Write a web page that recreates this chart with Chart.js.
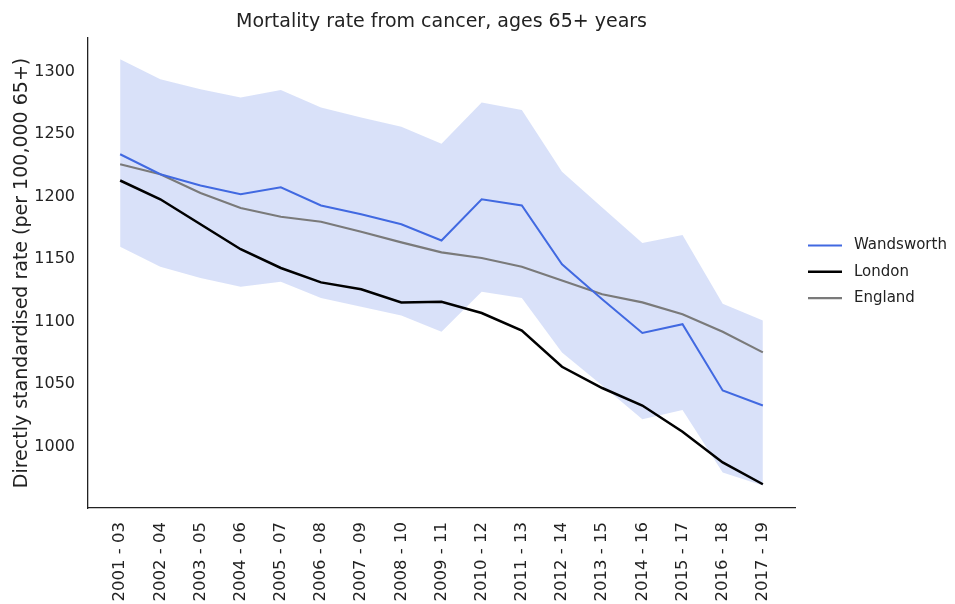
<!DOCTYPE html>
<html>
<head>
<meta charset="utf-8">
<script src="https://cdn.jsdelivr.net/npm/chart.js@4"></script>
<style>
  html, body { margin: 0; padding: 0; background: #fff; }
  #wrap { position: relative; width: 955px; height: 604px; }
</style>
</head>
<body>
<div id="wrap"><canvas id="chart" width="955" height="604"></canvas></div>
<script>
// Periods (3-year pooled)
const periods = ['2001 - 03', '2002 - 04', '2003 - 05', '2004 - 06', '2005 - 07', '2006 - 08',
    '2007 - 09', '2008 - 10', '2009 - 11', '2010 - 12', '2011 - 13', '2012 - 14',
    '2013 - 15', '2014 - 16', '2015 - 17', '2016 - 18', '2017 - 19'];

// Directly standardised rate per 100,000 aged 65+
const wandsworth = [1234, 1218, 1209, 1202, 1207.5, 1193, 1186, 1178, 1165, 1198, 1193, 1146, 1118, 1091, 1098, 1045, 1033];
const london = [1213, 1198, 1178, 1158, 1143, 1131.5, 1126, 1115.5, 1116, 1107, 1093, 1064, 1047, 1033, 1012, 987.5, 970];
const england = [1226, 1218, 1203, 1191, 1184, 1180, 1172, 1163.5, 1155.5, 1151, 1144, 1133, 1122, 1115.5, 1106, 1092, 1075.5];

// Wandsworth 95% confidence interval
const wandsworthUpper = [1310, 1294, 1286, 1279.5, 1285.5, 1271.5, 1263.5, 1256, 1242.5, 1275.5, 1269.5, 1220, 1191.5, 1163, 1169.5, 1114.5, 1101];
const wandsworthLower = [1160, 1144, 1135, 1128, 1132, 1119, 1112, 1105, 1092, 1124, 1119, 1075.5, 1049, 1022, 1029.5, 979.5, 969];

const yTicks = [1000, 1050, 1100, 1150, 1200, 1250, 1300];

const FONT = "'DejaVu Sans', sans-serif";
const TEXT = '#222';

function toPoints(values) {
    return values.map((v, i) => ({ x: i, y: v }));
}

const legendItems = [
    { label: 'Wandsworth', color: '#4169e1', width: 2 },
    { label: 'London', color: '#000000', width: 2.5 },
    { label: 'England', color: '#7a7a7a', width: 2.2 }
];

// simple legend drawn at the right, matplotlib style
const sideLegend = {
    id: 'sideLegend',
    afterDraw(chart) {
        const ctx = chart.ctx;
        ctx.save();
        ctx.font = '15px ' + FONT;
        ctx.textBaseline = 'middle';
        ctx.textAlign = 'left';
        legendItems.forEach((item, i) => {
            const y = 245.5 + i * 26.3;
            ctx.strokeStyle = item.color;
            ctx.lineWidth = item.width;
            ctx.beginPath();
            ctx.moveTo(808, y);
            ctx.lineTo(842, y);
            ctx.stroke();
            ctx.fillStyle = TEXT;
            ctx.fillText(item.label, 854, y);
        });
        ctx.restore();
    }
};

const lineStyle = { pointRadius: 0, pointHoverRadius: 0, tension: 0, fill: false };

new Chart(document.getElementById('chart'), {
    type: 'line',
    data: {
        datasets: [
            Object.assign({ label: 'Wandsworth', data: toPoints(wandsworth), borderColor: '#4169e1', borderWidth: 2, order: 1 }, lineStyle),
            Object.assign({ label: 'London', data: toPoints(london), borderColor: '#000000', borderWidth: 2.5, order: 2 }, lineStyle),
            Object.assign({ label: 'England', data: toPoints(england), borderColor: '#7a7a7a', borderWidth: 2.2, order: 3 }, lineStyle),
            { label: 'Lower CI', data: toPoints(wandsworthLower), borderWidth: 0, pointRadius: 0, fill: false, order: 5 },
            { label: 'Upper CI', data: toPoints(wandsworthUpper), borderWidth: 0, pointRadius: 0,
              backgroundColor: 'rgba(65,105,225,0.2)', fill: 3, order: 4 }
        ]
    },
    options: {
        responsive: false,
        animation: false,
        events: [],
        layout: { padding: { right: 160 } },
        plugins: {
            legend: { display: false },
            tooltip: { enabled: false },
            title: {
                display: true,
                fullSize: false,
                text: 'Mortality rate from cancer, ages 65+ years',
                color: TEXT,
                font: { family: FONT, size: 19, weight: 'normal' },
                padding: { top: 10.6, bottom: 4.6 }
            }
        },
        scales: {
            x: {
                type: 'linear',
                min: -0.8,
                max: 16.8,
                grid: { display: false, drawTicks: false },
                border: { display: true, color: '#222', width: 1.3 },
                afterBuildTicks: axis => { axis.ticks = periods.map((p, i) => ({ value: i })); },
                afterFit: axis => { axis.height = 96; },
                ticks: {
                    autoSkip: false,
                    minRotation: 90,
                    maxRotation: 90,
                    padding: 14,
                    color: TEXT,
                    font: { family: FONT, size: 16.5 },
                    callback: v => periods[v]
                }
            },
            y: {
                min: 951,
                max: 1327,
                grid: { display: false, drawTicks: false },
                border: { display: true, color: '#222', width: 1.3 },
                afterBuildTicks: axis => { axis.ticks = yTicks.map(v => ({ value: v })); },
                afterFit: axis => { axis.width = 88; },
                ticks: {
                    padding: 13,
                    color: TEXT,
                    font: { family: FONT, size: 16 },
                    callback: v => String(v)
                },
                title: {
                    display: true,
                    text: 'Directly standardised rate (per 100,000 65+)',
                    color: TEXT,
                    font: { family: FONT, size: 19 },
                    padding: { top: 10.6, bottom: 0 }
                }
            }
        }
    },
    plugins: [sideLegend]
});
</script>
</body>
</html>
